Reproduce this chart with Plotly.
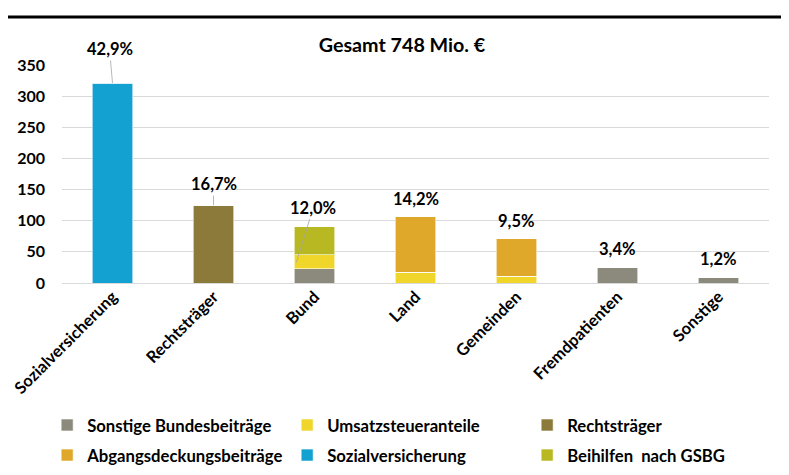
import plotly.graph_objects as go

categories = ["Sozialversicherung", "Rechtsträger", "Bund", "Land", "Gemeinden", "Fremdpatienten", "Sonstige"]

sonstige_bundesbeitraege = [0, 0, 23, 0, 0, 25.5, 9]
umsatzsteueranteile = [0, 0, 22, 17, 11, 0, 0]
rechtstraeger = [0, 125, 0, 0, 0, 0, 0]
abgangsdeckungsbeitraege = [0, 0, 0, 89, 60, 0, 0]
sozialversicherung = [321, 0, 0, 0, 0, 0, 0]
beihilfen_gsbg = [0, 0, 45, 0, 0, 0, 0]

pct_labels = ["42,9%", "16,7%", "12,0%", "14,2%", "9,5%", "3,4%", "1,2%"]
title_text = "Gesamt 748 Mio. €"
y_ticks = [0, 50, 100, 150, 200, 250, 300, 350]

series = [
    ("Sonstige Bundesbeiträge", sonstige_bundesbeitraege, "#8C8A7C", "legend"),
    ("Umsatzsteueranteile", umsatzsteueranteile, "#F0D62A", "legend"),
    ("Rechtsträger", rechtstraeger, "#8B7A3A", "legend"),
    ("Abgangsdeckungsbeiträge", abgangsdeckungsbeitraege, "#E0A82A", "legend2"),
    ("Sozialversicherung", sozialversicherung, "#13A1D1", "legend2"),
    ("Beihilfen  nach GSBG", beihilfen_gsbg, "#B8B822", "legend2"),
]

FONT = "Lato, 'Open Sans', sans-serif"

fig = go.Figure()
for name, vals, color, lg in series:
    fig.add_trace(go.Bar(
        x=categories, y=vals, name=name, legend=lg,
        marker=dict(color=color, line=dict(color="rgba(255,255,255,0.6)", width=1)),
        width=0.4, hoverinfo="x+y+name",
    ))

totals = [sum(s[1][i] for s in series) for i in range(len(categories))]

for i, cat in enumerate(categories):
    if i == 0:
        fig.add_annotation(x=cat, y=totals[i], text=pct_labels[i], showarrow=True,
                           arrowhead=0, arrowwidth=0.8, arrowcolor="#A6A6A6",
                           ax=-3, ay=-34, font=dict(size=16.5))
    elif i == 1:
        fig.add_annotation(x=cat, y=totals[i], text=pct_labels[i], showarrow=True,
                           arrowhead=0, arrowwidth=0.8, arrowcolor="#A6A6A6",
                           ax=0, ay=-21, font=dict(size=16.5))
    elif i == 2:
        fig.add_annotation(x=i - 0.18, y=sonstige_bundesbeitraege[i] + umsatzsteueranteile[i] * 0.45,
                           text=pct_labels[i], showarrow=True,
                           arrowhead=0, arrowwidth=0.8, arrowcolor="#A6A6A6",
                           ax=17, ay=-55, font=dict(size=16.5))
    else:
        fig.add_annotation(x=cat, y=totals[i], text=pct_labels[i], showarrow=False,
                           yanchor="bottom", yshift=6, font=dict(size=16.5))

fig.add_shape(type="line", xref="paper", yref="paper", x0=-0.081, x1=1.08, y0=1.22, y1=1.22,
              line=dict(color="black", width=3))

leg_common = dict(orientation="h", x=-0.021, xanchor="left", yanchor="middle",
                  entrywidth=195, entrywidthmode="pixels", font=dict(size=16.7),
                  itemwidth=30, bgcolor="rgba(0,0,0,0)", traceorder="normal")

fig.update_layout(
    width=789, height=475,
    margin=dict(l=54, r=28, t=57, b=200, autoexpand=False),
    paper_bgcolor="white", plot_bgcolor="white",
    font=dict(family=FONT, size=15, color="black", weight=700),
    barmode="stack", bargap=0.6,
    title=dict(text=title_text, x=394 / 789, xref="container", xanchor="center",
               y=1 - 37 / 475, yref="container", yanchor="middle",
               font=dict(size=19.7, weight=700)),
    showlegend=True,
    legend=dict(y=-0.652, **leg_common),
    legend2=dict(y=-0.79, **leg_common),
    xaxis=dict(tickangle=-45, showgrid=False, showline=False, ticks="",
               tickfont=dict(size=16.5), range=[-0.5, 6.5], automargin=False),
    yaxis=dict(range=[0, 350], tickvals=y_ticks, showgrid=True, gridcolor="#D9D9D9",
               gridwidth=1, zeroline=True, zerolinecolor="#D9D9D9", zerolinewidth=1,
               tickfont=dict(size=16), ticks="", ticklabelstandoff=16, automargin=False),
)

fig.write_html("out.html")
